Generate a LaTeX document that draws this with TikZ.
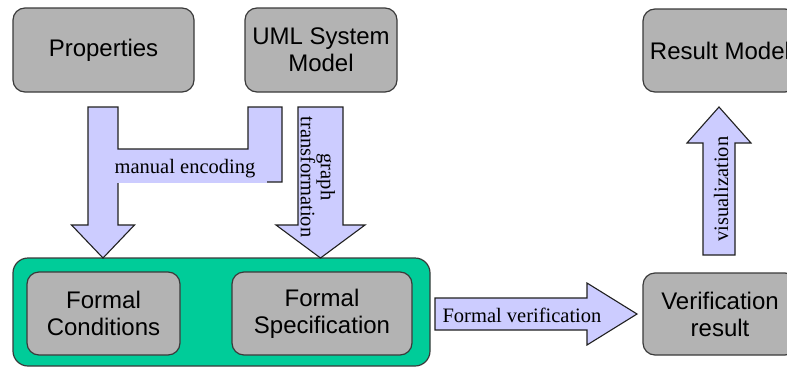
\documentclass[tikz,border=0pt]{standalone}
\usepackage{fontspec}
\setmainfont{Liberation Serif}
\setsansfont{Liberation Sans}
\definecolor{boxgray}{HTML}{B3B3B3}
\definecolor{boxline}{HTML}{3A3A3A}
\definecolor{groupgreen}{HTML}{00CC99}
\definecolor{arrowfill}{HTML}{CCCCFF}
\definecolor{arrowline}{HTML}{202020}
\begin{document}
\begin{tikzpicture}[x=1pt,y=-1pt,
  procbox/.style={draw=boxline, fill=boxgray, rounded corners=12pt, line width=1.2pt,
    align=center, inner sep=0pt, font=\sffamily\fontsize{24}{27}\selectfont},
  groupbox/.style={draw=boxline, fill=groupgreen, rounded corners=15pt, line width=1.2pt, inner sep=0pt},
  blockarrow/.style={draw=arrowline, fill=arrowfill, line width=1.1pt, line join=miter},
  arrowlabel/.style={inner sep=0pt, align=center, font=\fontsize{20.5}{20}\selectfont}]
\useasboundingbox (0,0) rectangle (787,367);
\clip (0,0) rectangle (787,367);

% top row
\node[procbox, minimum width=181pt, minimum height=84pt] (prop) at (103.5,50) {Properties};
\node[procbox, minimum width=152pt, minimum height=84pt] (uml) at (321,50) {UML System\\Model};
\node[procbox, minimum width=154pt, minimum height=83pt] (resmodel) at (720,50.5) {Result Model};

% formal model group
\node[groupbox, minimum width=417pt, minimum height=108pt] (formal) at (221.5,312) {};
\node[procbox, minimum width=153pt, minimum height=83pt] (cond) at (103.5,313.5) {Formal\\Conditions};
\node[procbox, minimum width=180pt, minimum height=83pt] (spec) at (322,313.5) {Formal\\Specification};
\node[procbox, minimum width=154pt, minimum height=82pt] (verres) at (720,314) {Verification\\result};

% properties arrow merged with the manual encoding branch from the UML model
\draw[blockarrow] (88,107) -- (118,107) -- (118,149) -- (248,149) -- (248,107)
  -- (282,107) -- (282,182) -- (118,182) -- (118,225) -- (134.5,225)
  -- (103,258) -- (71.5,225) -- (88,225) -- cycle;
\node[arrowlabel, fill=arrowfill, inner xsep=12pt, inner ysep=6pt, anchor=base]
  (enc) at (185,173) {manual encoding};

% graph transformation
\draw[blockarrow] (298,107) -- (343,107) -- (343,225) -- (365,225)
  -- (320.5,258) -- (276,225) -- (298,225) -- cycle;
\node[arrowlabel, rotate=-90] (gt) at (318,177) {graph\\transformation};

% formal verification
\draw[blockarrow] (435,298) -- (587,298) -- (587,283) -- (637,314)
  -- (587,345) -- (587,330) -- (435,330) -- cycle;
\node[arrowlabel] (fv) at (522,315) {Formal verification};

% visualization
\draw[blockarrow] (703,255) -- (735,255) -- (735,143) -- (751,143)
  -- (719,107) -- (687,143) -- (703,143) -- cycle;
\node[arrowlabel, rotate=90] (vis) at (721,189) {visualization};
\end{tikzpicture}
\end{document}
